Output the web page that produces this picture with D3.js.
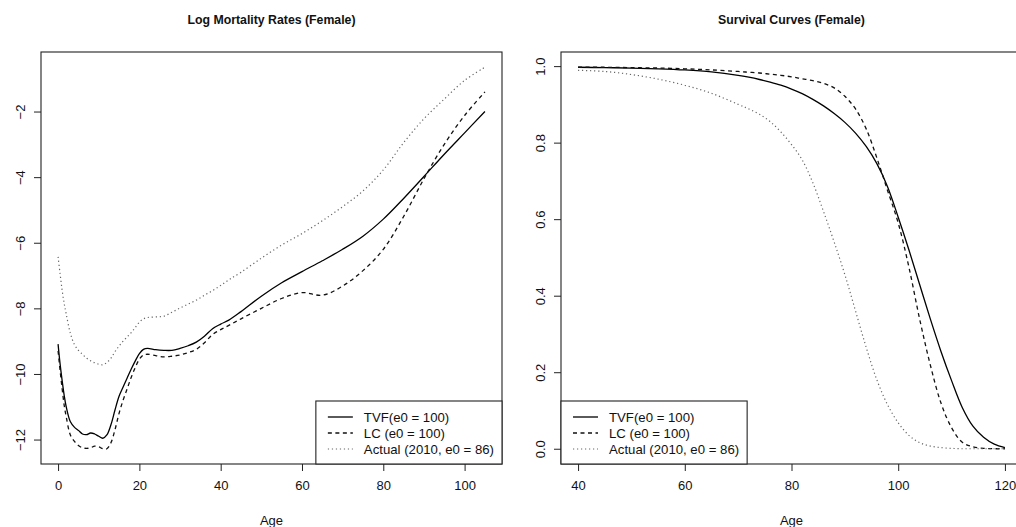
<!DOCTYPE html>
<html>
<head>
<meta charset="utf-8">
<script src="https://cdn.jsdelivr.net/npm/d3@7"></script>
<style>
  body { margin: 0; background: #fff; }
  text { font-family: "Liberation Sans", Arial, sans-serif; fill: #111; }
  .title { font-weight: bold; font-size: 12.3px; }
  .tick-label, .axis-label { font-size: 13px; }
  .legend-text { font-size: 13.2px; }
</style>
</head>
<body>
<div id="chart"></div>
<script>
// Left panel: log mortality by age
var mortAges = [0, 0.5, 1, 1.5, 2, 3, 4, 5, 6, 7, 8, 9, 10, 11, 12, 13, 14, 15, 16, 17, 18, 19, 20, 21, 22,
  24, 26, 28, 30, 32, 34, 36, 38, 40, 42, 45, 50, 55, 60, 65, 70, 75, 80, 85, 90, 95, 100, 105];
var mortTVF = [-9.09, -9.7, -10.2, -10.65, -11.0, -11.45, -11.62, -11.72, -11.83, -11.85, -11.8, -11.83, -11.9,
  -11.96, -11.86, -11.55, -11.1, -10.68, -10.4, -10.12, -9.85, -9.6, -9.38, -9.25, -9.22,
  -9.26, -9.28, -9.28, -9.22, -9.14, -9.03, -8.85, -8.62, -8.48, -8.36, -8.1, -7.63, -7.22, -6.88,
  -6.55, -6.2, -5.8, -5.28, -4.65, -3.98, -3.3, -2.65, -2.0];
var mortLC = [-9.3, -9.9, -10.45, -10.95, -11.3, -11.85, -12.05, -12.18, -12.25, -12.27, -12.25, -12.2, -12.22,
  -12.28, -12.28, -12.1, -11.7, -11.2, -10.8, -10.45, -10.1, -9.8, -9.55, -9.42, -9.4,
  -9.44, -9.48, -9.46, -9.42, -9.35, -9.25, -9.05, -8.8, -8.65, -8.52, -8.32, -8.0, -7.7, -7.52,
  -7.6, -7.32, -6.85, -6.2, -5.2, -4.05, -3.0, -2.12, -1.4];
var mortActual = [-6.43, -6.95, -7.45, -7.85, -8.17, -8.75, -9.1, -9.28, -9.4, -9.52, -9.6, -9.66, -9.7,
  -9.72, -9.65, -9.52, -9.32, -9.15, -9.0, -8.87, -8.74, -8.58, -8.42, -8.32, -8.28,
  -8.26, -8.24, -8.12, -7.99, -7.87, -7.75, -7.6, -7.46, -7.3, -7.13, -6.9, -6.47, -6.07, -5.72,
  -5.33, -4.9, -4.42, -3.78, -2.95, -2.22, -1.62, -1.05, -0.65];

// Right panel: survival by age
var survAges = [40, 45, 50, 55, 60, 65, 70, 72, 74, 76, 78, 80, 82, 84, 86, 88, 90, 92, 94, 96, 98, 100,
  102, 104, 106, 108, 110, 112, 114, 116, 118, 120];
var survTVF = [0.997, 0.996, 0.995, 0.993, 0.99, 0.985, 0.976, 0.971, 0.965, 0.958, 0.95, 0.94, 0.928, 0.913,
  0.896, 0.876, 0.853, 0.825, 0.79, 0.745, 0.685, 0.605, 0.52, 0.43, 0.34, 0.255, 0.178, 0.108, 0.059,
  0.03, 0.012, 0.003];
var survLC = [0.997, 0.997, 0.996, 0.995, 0.993, 0.99, 0.986, 0.984, 0.982, 0.979, 0.976, 0.972, 0.967, 0.962,
  0.955, 0.943, 0.921, 0.888, 0.836, 0.76, 0.675, 0.59, 0.475, 0.34, 0.22, 0.12, 0.055, 0.017, 0.005,
  0.001, 0, 0];
var survActual = [0.989, 0.986, 0.978, 0.966, 0.95, 0.929, 0.9, 0.888, 0.874, 0.855, 0.828, 0.795, 0.755,
  0.695, 0.62, 0.54, 0.455, 0.36, 0.265, 0.18, 0.115, 0.068, 0.035, 0.016, 0.007, 0.003, 0.001, 0, 0,
  0, 0, 0];

var seriesNames = ["TVF(e0 = 100)", "LC (e0 = 100)", "Actual (2010, e0 = 86)"];
var mortXTicks = [0, 20, 40, 60, 80, 100];
var mortYTicks = [-12, -10, -8, -6, -4, -2];
var survXTicks = [40, 60, 80, 100, 120];
var survYTicks = [0, 0.2, 0.4, 0.6, 0.8, 1.0];

var styles = [
  { stroke: "#000", dash: null, width: 1.3 },
  { stroke: "#111", dash: "4,3.5", width: 1.3 },
  { stroke: "#666", dash: "1.2,2.8", width: 1.2 }
];

var W = 1016, H = 527;
var svg = d3.select("#chart").append("svg")
  .attr("width", W)
  .attr("height", H);

// R-style 4% padding around the data range
function padded(ext) {
  var p = (ext[1] - ext[0]) * 0.04;
  return [ext[0] - p, ext[1] + p];
}

function drawPanel(cfg) {
  var x = d3.scaleLinear().domain(padded(d3.extent(cfg.ages))).range([cfg.left, cfg.left + 461]);
  var allY = d3.merge(cfg.series);
  var y = d3.scaleLinear().domain(padded(d3.extent(allY))).range([464, 52]);
  var g = svg.append("g");

  // Title
  g.append("text")
    .attr("class", "title")
    .attr("x", (x.range()[0] + x.range()[1]) / 2)
    .attr("y", 24)
    .attr("text-anchor", "middle")
    .text(cfg.title);

  // Lines
  var line = d3.line()
    .x(function(d) { return x(d[0]); })
    .y(function(d) { return y(d[1]); })
    .curve(d3.curveCatmullRom.alpha(0.5));

  cfg.series.forEach(function(vals, i) {
    g.append("path")
      .datum(cfg.ages.map(function(a, j) { return [a, vals[j]]; }))
      .attr("d", line)
      .attr("fill", "none")
      .attr("stroke", styles[i].stroke)
      .attr("stroke-width", styles[i].width)
      .attr("stroke-dasharray", styles[i].dash);
  });

  // Box
  g.append("rect")
    .attr("x", x.range()[0])
    .attr("y", 52)
    .attr("width", x.range()[1] - x.range()[0])
    .attr("height", 412)
    .attr("fill", "none")
    .attr("stroke", "#222")
    .attr("stroke-width", 1.1);

  // X axis
  var xAxis = g.append("g").attr("transform", "translate(0,464)")
    .call(d3.axisBottom(x).tickValues(cfg.xTicks).tickSize(7).tickPadding(10).tickFormat(d3.format("d")));
  xAxis.select(".domain").remove();
  xAxis.selectAll("line").attr("stroke", "#222");
  xAxis.selectAll("text").attr("class", "tick-label").attr("font-size", null).attr("font-family", null);

  // Y axis (labels rotated, R style)
  var yAxis = g.append("g").attr("transform", "translate(" + x.range()[0] + ",0)")
    .call(d3.axisLeft(y).tickValues(cfg.yTicks).tickSize(7).tickFormat(cfg.yFormat));
  yAxis.select(".domain").remove();
  yAxis.selectAll("line").attr("stroke", "#222");
  yAxis.selectAll("text")
    .attr("class", "tick-label")
    .attr("font-size", null).attr("font-family", null)
    .attr("x", null).attr("dy", null)
    .attr("text-anchor", "middle")
    .attr("transform", "translate(-16,0) rotate(-90)");

  // X label
  g.append("text")
    .attr("class", "axis-label")
    .attr("x", (x.range()[0] + x.range()[1]) / 2)
    .attr("y", 525)
    .attr("text-anchor", "middle")
    .text("Age");

  // Legend
  var lg = g.append("g");
  var box = lg.append("rect")
    .attr("y", 401)
    .attr("height", 63)
    .attr("fill", "#fff")
    .attr("stroke", "#222")
    .attr("stroke-width", 1.1);
  var maxW = 0;
  seriesNames.forEach(function(name, i) {
    var t = lg.append("text")
      .attr("class", "legend-text")
      .attr("y", 417 + i * 16 + 5)
      .text(name);
    maxW = Math.max(maxW, t.node().getComputedTextLength());
  });
  var bw = 48 + maxW + 8;
  var bx = cfg.legendRight ? x.range()[1] - bw : x.range()[0];
  box.attr("x", bx).attr("width", bw);
  lg.selectAll("text").attr("x", bx + 48);
  styles.forEach(function(s, i) {
    lg.append("line")
      .attr("x1", bx + 12).attr("x2", bx + 37)
      .attr("y1", 417 + i * 16).attr("y2", 417 + i * 16)
      .attr("stroke", s.stroke)
      .attr("stroke-width", s.width)
      .attr("stroke-dasharray", s.dash);
  });
}

drawPanel({
  title: "Log Mortality Rates (Female)",
  left: 41,
  ages: mortAges,
  series: [mortTVF, mortLC, mortActual],
  xTicks: mortXTicks,
  yTicks: mortYTicks,
  yFormat: d3.format("d"),
  legendRight: true
});

drawPanel({
  title: "Survival Curves (Female)",
  left: 561,
  ages: survAges,
  series: [survTVF, survLC, survActual],
  xTicks: survXTicks,
  yTicks: survYTicks,
  yFormat: d3.format(".1f"),
  legendRight: false
});
</script>
</body>
</html>
